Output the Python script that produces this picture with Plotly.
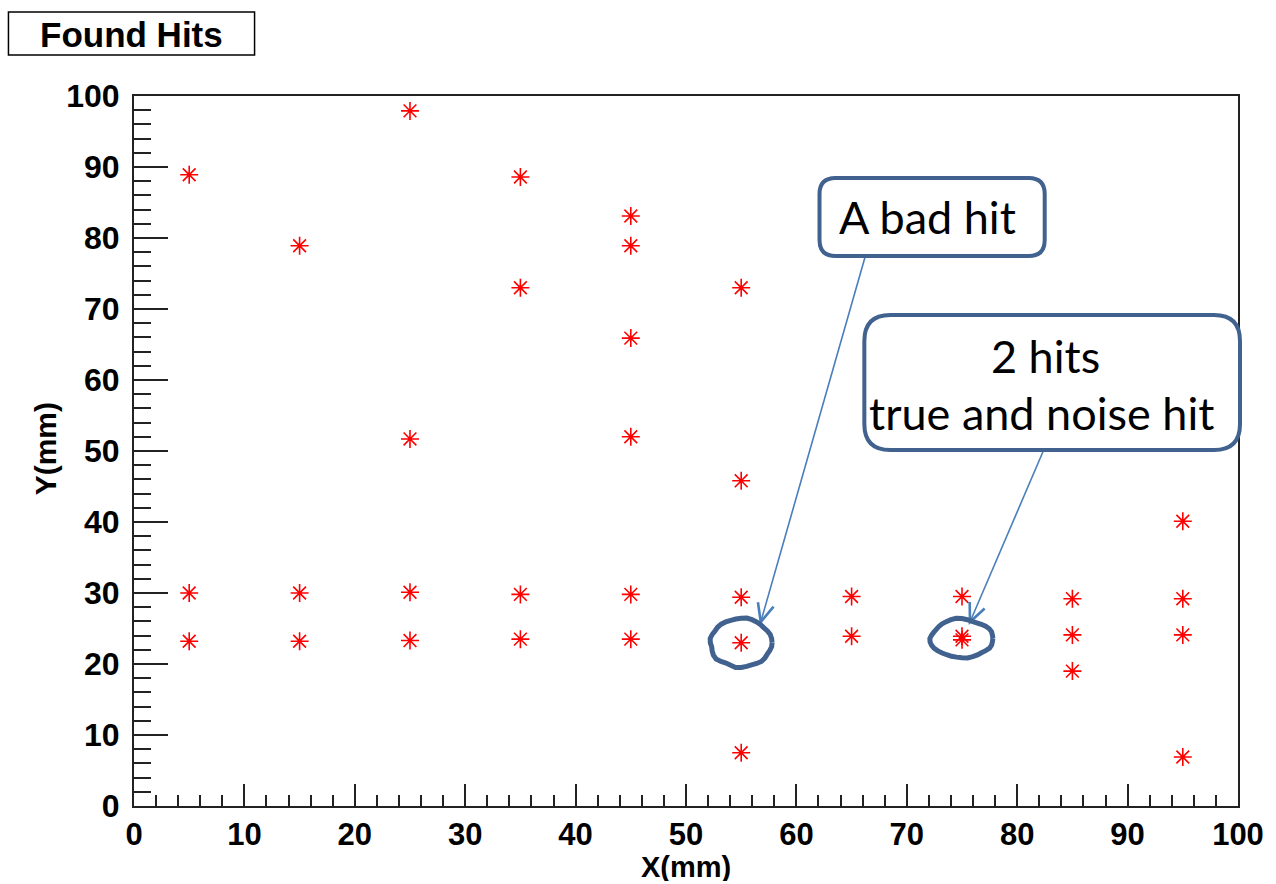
import math
import plotly.graph_objects as go

# Hit positions per detector column (x in mm) and the y values found there
hit_x = [5, 5, 5,
         15, 15, 15,
         25, 25, 25, 25,
         35, 35, 35, 35,
         45, 45, 45, 45, 45, 45,
         55, 55, 55, 55, 55,
         65, 65,
         75, 75, 75,
         85, 85, 85,
         95, 95, 95, 95]
hit_y = [88.9, 30.0, 23.2,
         78.9, 30.0, 23.2,
         97.9, 51.7, 30.1, 23.3,
         88.6, 73.0, 29.8, 23.5,
         83.1, 78.9, 65.9, 52.0, 29.8, 23.5,
         73.0, 45.8, 29.4, 23.0, 7.5,
         29.5, 23.9,
         29.5, 23.9, 23.4,
         29.2, 24.1, 19.0,
         40.1, 29.2, 24.1, 6.9]

# Highlighted hits: the misplaced one and the doubled true+noise pair
bad_hit = (55, 23.0)
double_hit = (75, 23.6)

x_ticks = list(range(0, 101, 10))
y_ticks = list(range(0, 101, 10))

W, H = 1276, 884
L, R, T, B = 134, 1242, 96, 806

def to_px(x, y):
    return L + (R - L) * x / 100.0, B - (B - T) * y / 100.0

def px_to_paper(px, py):
    return (px - L) / (R - L), (B - py) / (B - T)

fig = go.Figure()
fig.add_trace(go.Scatter(
    x=hit_x, y=hit_y, mode="markers",
    marker=dict(symbol="asterisk-open", size=15, color="red",
                line=dict(color="red", width=1.6)),
    showlegend=False, hoverinfo="x+y",
))

tick_font = dict(family="Liberation Sans, Arial", size=32, color="black", weight="bold")
fig.update_xaxes(
    range=[0, 100], tickvals=x_ticks, ticks="inside", ticklen=22, tickwidth=2,
    tickcolor="#222", showline=True, linecolor="#222", linewidth=2, mirror=True,
    showgrid=False, zeroline=False, tickfont=dict(tick_font, size=31),
    minor=dict(ticks="inside", ticklen=11, dtick=2, tickwidth=2, tickcolor="#222", showgrid=False),
)
fig.update_yaxes(
    range=[0, 100], tickvals=y_ticks, ticks="inside", ticklen=34, tickwidth=2,
    tickcolor="#222", showline=True, linecolor="#222", linewidth=2, mirror=True,
    showgrid=False, zeroline=False, tickfont=tick_font, ticklabelstandoff=6,
    minor=dict(ticks="inside", ticklen=17, dtick=2, tickwidth=2, tickcolor="#222", showgrid=False),
)

shapes = []
annotations = []
box_col = "#41618F"
arrow_col = "#4A7EBB"

# Histogram title box
x0, y0 = px_to_paper(8, 55)
x1, y1 = px_to_paper(255, 12)
shapes.append(dict(type="rect", xref="paper", yref="paper", x0=x0, y0=y0, x1=x1, y1=y1,
                   line=dict(color="black", width=1.5), fillcolor="white", layer="above"))
cx, cy = px_to_paper(131, 35)
annotations.append(dict(text="Found Hits", xref="paper", yref="paper", x=cx, y=cy,
                        showarrow=False, xanchor="center", yanchor="middle",
                        font=dict(family="Liberation Sans, Arial", size=35, color="black", weight="bold")))

# Axis titles
cx, cy = px_to_paper(688, 867)
annotations.append(dict(text="X(mm)", xref="paper", yref="paper", x=cx, y=cy, showarrow=False,
                        xanchor="center", yanchor="middle", height=28, borderpad=0,
                        font=dict(family="Liberation Sans, Arial", size=29, color="black", weight="bold")))
cx, cy = px_to_paper(45, 449)
annotations.append(dict(text="Y(mm)", xref="paper", yref="paper", x=cx, y=cy, showarrow=False,
                        textangle=-90, xanchor="center", yanchor="middle",
                        font=dict(family="Liberation Sans, Arial", size=30, color="black", weight="bold")))


def rounded_box(px0, py0, px1, py1, r):
    def P(px, py):
        a, b = px_to_paper(px, py)
        return f"{a:.5f},{b:.5f}"
    # corners traced with quadratic curves
    path = (f"M {P(px0 + r, py0)} L {P(px1 - r, py0)} Q {P(px1, py0)} {P(px1, py0 + r)} "
            f"L {P(px1, py1 - r)} Q {P(px1, py1)} {P(px1 - r, py1)} "
            f"L {P(px0 + r, py1)} Q {P(px0, py1)} {P(px0, py1 - r)} "
            f"L {P(px0, py0 + r)} Q {P(px0, py0)} {P(px0 + r, py0)} Z")
    return dict(type="path", xref="paper", yref="paper", path=path,
                line=dict(color=box_col, width=4), fillcolor="white", layer="above")


def arrow(px0, py0, px1, py1):
    a0, b0 = px_to_paper(px0, py0)
    a1, b1 = px_to_paper(px1, py1)
    shapes.append(dict(type="line", xref="paper", yref="paper", x0=a0, y0=b0, x1=a1, y1=b1,
                       line=dict(color=arrow_col, width=1.6), layer="above"))
    ang = math.atan2(py0 - py1, px0 - px1)
    head = []
    for da in (-0.42, 0.42):
        hx = px1 + 20 * math.cos(ang + da)
        hy = py1 + 20 * math.sin(ang + da)
        head.append(px_to_paper(hx, hy))
    (ha, hb), (hc, hd) = head
    shapes.append(dict(type="path", xref="paper", yref="paper",
                       path=f"M {ha:.5f},{hb:.5f} L {a1:.5f},{b1:.5f} L {hc:.5f},{hd:.5f}",
                       line=dict(color=arrow_col, width=2.6), layer="above"))


def scribble(center, rx, ry, wob):
    # hand-drawn loop round a highlighted hit
    cxp, cyp = to_px(*center)
    n = len(wob)
    parts = []
    for i in range(n + 1):
        t = 2 * math.pi * (i % n) / n
        k = wob[i % n]
        px = cxp + rx * k * math.cos(t)
        py = cyp + ry * k * math.sin(t)
        a, b = px_to_paper(px, py)
        parts.append(f"{a:.5f},{b:.5f}")
    path = "M " + " L ".join(parts)
    shapes.append(dict(type="path", xref="paper", yref="paper", path=path,
                       line=dict(color=box_col, width=5), layer="above"))


arrow(868, 256, 763, 622)
arrow(1047, 450, 973, 622)

scribble(bad_hit, 31, 24, [1.0, 1.0, 0.98, 0.97, 1.0, 1.02, 1.0, 0.98, 1.0, 1.03, 1.05, 1.0,
                           0.98, 1.02, 1.06, 1.04, 1.0, 0.97, 1.0, 1.02, 1.0, 0.98, 1.0, 1.01,
                           1.0, 0.99, 1.0, 1.02, 1.04, 1.02, 1.0, 0.98, 0.96, 0.98, 1.0, 1.0])
scribble(double_hit, 31, 19, [1.0, 1.0, 1.02, 1.03, 1.0, 0.98, 1.0, 1.02, 1.04, 1.02, 1.0, 1.0,
                              0.99, 1.0, 1.02, 1.04, 1.05, 1.05, 1.04, 1.0, 0.97, 0.96, 0.98, 1.0,
                              1.02, 1.05, 1.08, 1.05, 1.0, 0.96, 0.95, 0.97, 1.0, 1.02, 1.02, 1.0])

shapes.append(rounded_box(822, 178, 1048, 256, 16))
shapes.append(rounded_box(867, 315, 1244, 450, 26))

ann_font = dict(family="Lato, Carlito, Calibri", size=45, color="black")
cx, cy = px_to_paper(930, 217)
annotations.append(dict(text="A bad hit", xref="paper", yref="paper", x=cx, y=cy, showarrow=False,
                        xanchor="center", yanchor="middle", font=ann_font))
cx, cy = px_to_paper(1049, 356)
annotations.append(dict(text="2 hits", xref="paper", yref="paper", x=cx, y=cy, showarrow=False,
                        xanchor="center", yanchor="middle", font=ann_font))
cx, cy = px_to_paper(1045, 413)
annotations.append(dict(text="true and noise hit", xref="paper", yref="paper", x=cx, y=cy,
                        showarrow=False, xanchor="center", yanchor="middle", font=ann_font))

fig.update_layout(
    width=W, height=H,
    margin=dict(l=L, r=W - R, t=T, b=H - B, pad=0),
    paper_bgcolor="white", plot_bgcolor="white",
    shapes=shapes, annotations=annotations,
)

fig.write_html("out.html")
